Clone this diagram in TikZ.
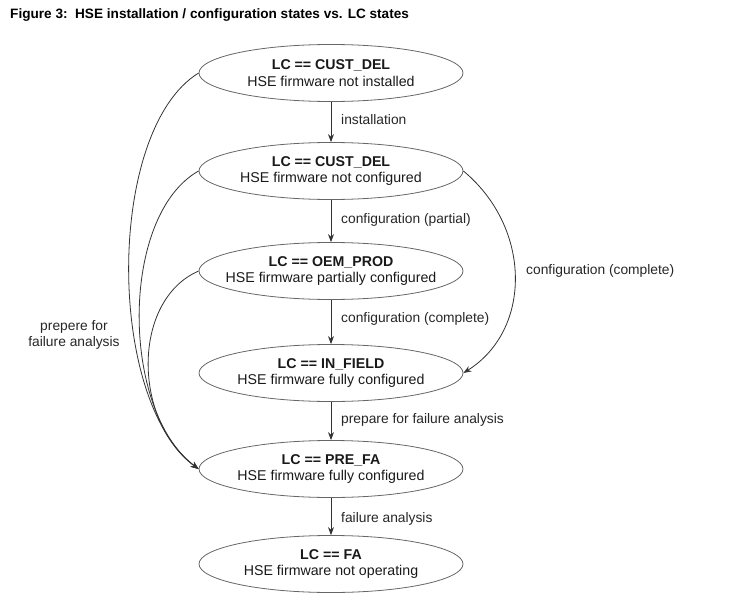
\documentclass[tikz,border=0pt]{standalone}
\usepackage{fontspec}
\setmainfont{Liberation Sans}
\usetikzlibrary{shapes.geometric,arrows.meta}
\newcommand{\zl}[1]{\makebox[0pt][c]{#1}}
\begin{document}
\begin{tikzpicture}[x=1pt,y=-1pt,
  st/.style={ellipse,draw=black!60,line width=0.8pt,minimum width=264pt,minimum height=57pt,
    inner sep=0pt,align=center,text=black!90,font=\fontsize{14.2}{16.5}\selectfont},
  lbl/.style={anchor=west,inner sep=0pt,text=black!85,font=\fontsize{13.8}{16}\selectfont},
  arr/.style={draw=black!80,line width=0.8pt,-{Stealth[length=8pt,width=6pt]}}]
\useasboundingbox (0,0) rectangle (750,613);
\node[anchor=west,inner sep=0pt,font=\bfseries\fontsize{13.6}{15}\selectfont] (title) at (10,15)
  {Figure 3:\ \ HSE installation / configuration states vs. LC states};
\node[st] (e1) at (331,73) {\zl{\textbf{LC == CUST\_DEL}}\\\zl{HSE firmware not installed}};
\node[st] (e2) at (331,171) {\zl{\textbf{LC == CUST\_DEL}}\\\zl{HSE firmware not configured}};
\node[st] (e3) at (331,271) {\zl{\textbf{LC == OEM\_PROD}}\\\zl{HSE firmware partially configured}};
\node[st] (e4) at (331,373) {\zl{\textbf{LC == IN\_FIELD}}\\\zl{HSE firmware fully configured}};
\node[st] (e5) at (331,469) {\zl{\textbf{LC == PRE\_FA}}\\\zl{HSE firmware fully configured}};
\node[st] (e6) at (331,564) {\zl{\textbf{LC == FA}}\\\zl{HSE firmware not operating}};
\draw[arr] (e1) -- (e2);
\draw[arr] (e2) -- (e3);
\draw[arr] (e3) -- (e4);
\draw[arr] (e4) -- (e5);
\draw[arr] (e5) -- (e6);
\node[lbl] (l1) at (341,120) {installation};
\node[lbl] (l2) at (341,220) {configuration (partial)};
\node[lbl] (l3) at (341,319) {configuration (complete)};
\node[lbl] (l4) at (341,420) {prepare for failure analysis};
\node[lbl] (l5) at (341,519) {failure analysis};
\node[lbl] (l6) at (526,271) {configuration (complete)};
\node[inner sep=0pt,align=center,text=black!85,font=\fontsize{13.8}{16}\selectfont] (l7) at (74,335)
  {prepere for\\failure analysis};
\draw[arr] (e1.west) .. controls (106,130) and (106,400) .. (e5.west);
\draw[arr] (e2.west) .. controls (120,215) and (120,410) .. (e5.west);
\draw[arr] (e3.west) .. controls (132,300) and (132,420) .. (e5.west);
\draw[arr] (e2.east) .. controls (532,228) and (532,330) .. (e4.east);
\end{tikzpicture}
\end{document}
